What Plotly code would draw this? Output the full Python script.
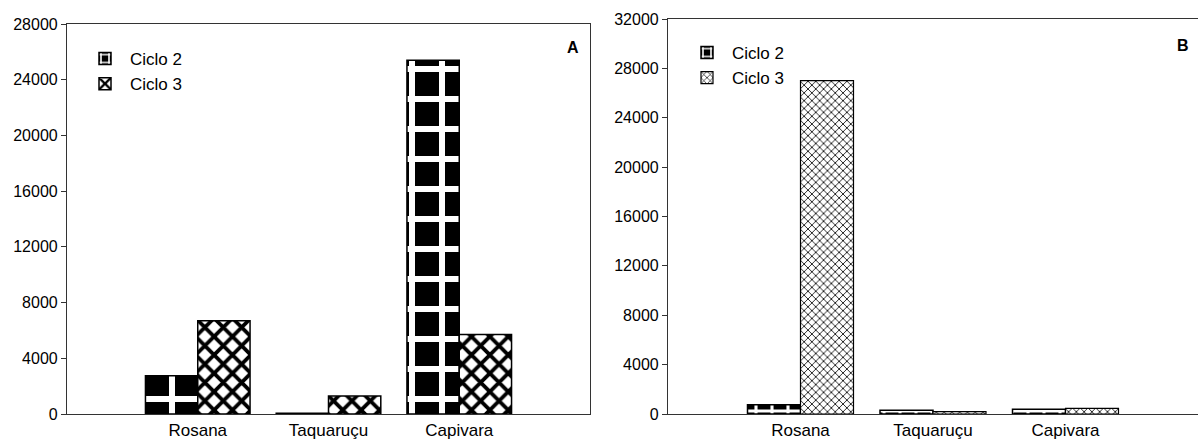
import plotly.graph_objects as go

categories = ["Rosana", "Taquaruçu", "Capivara"]
series_names = ["Ciclo 2", "Ciclo 3"]
panel_a_ciclo2 = [2750, 50, 25400]
panel_a_ciclo3 = [6700, 1300, 5700]
panel_b_ciclo2 = [750, 300, 380]
panel_b_ciclo3 = [27000, 200, 450]
ticks_a = [0, 4000, 8000, 12000, 16000, 20000, 24000, 28000]
ticks_b = [0, 4000, 8000, 12000, 16000, 20000, 24000, 28000, 32000]

FONT = "Liberation Sans, Arial, sans-serif"
W, H = 1198, 443

def px_x(v):
    return v / W

def px_y(v):
    return 1 - v / H

fig = go.Figure()

def brick(size, sol):
    return dict(shape="+", fgcolor="white", bgcolor="black", size=size,
                solidity=sol, fillmode="replace")

def cross(size, sol):
    return dict(shape="x", fgcolor="black", bgcolor="white", size=size,
                solidity=sol, fillmode="replace")

fig.add_trace(go.Bar(x=categories, y=panel_a_ciclo2, name=series_names[0],
                     xaxis="x", yaxis="y", legend="legend",
                     marker=dict(color="black", pattern=brick(30, 0.36),
                                 line=dict(color="black", width=1.5))))
fig.add_trace(go.Bar(x=categories, y=panel_a_ciclo3, name=series_names[1],
                     xaxis="x", yaxis="y", legend="legend",
                     marker=dict(color="white", pattern=cross(13, 0.5),
                                 line=dict(color="black", width=1.5))))
fig.add_trace(go.Bar(x=categories, y=panel_b_ciclo2, name=series_names[0],
                     xaxis="x2", yaxis="y2", legend="legend2",
                     marker=dict(color="black", pattern=brick(16, 0.35),
                                 line=dict(color="black", width=1.5))))
fig.add_trace(go.Bar(x=categories, y=panel_b_ciclo3, name=series_names[1],
                     xaxis="x2", yaxis="y2", legend="legend2",
                     marker=dict(color="white", pattern=cross(5.5, 0.28),
                                 line=dict(color="black", width=1.2))))

axis_line = dict(showline=True, linecolor="#333", linewidth=1.2, mirror=True,
                 showgrid=False, zeroline=False)

fig.update_layout(
    width=W, height=H,
    margin=dict(l=0, r=0, t=0, b=0),
    paper_bgcolor="white", plot_bgcolor="white",
    barmode="group", bargap=0.2, bargroupgap=0,
    font=dict(family=FONT, size=16, color="black"),
    xaxis=dict(domain=[px_x(67), px_x(590)], anchor="y", range=[-1, 3],
               type="category", ticks="", tickfont=dict(size=17),
               automargin=False, **axis_line),
    yaxis=dict(domain=[px_y(414), px_y(24)], anchor="x", range=[0, 28000],
               tickvals=ticks_a, ticktext=[str(t) for t in ticks_a],
               ticks="outside", ticklen=5, tickcolor="#333",
               tickfont=dict(size=16), automargin=False, **axis_line),
    xaxis2=dict(domain=[px_x(668), 1.0], anchor="y2", range=[-1, 3],
                type="category", ticks="", tickfont=dict(size=17),
                automargin=False, **axis_line),
    yaxis2=dict(domain=[px_y(414), px_y(19)], anchor="x2", range=[0, 32000],
                tickvals=ticks_b, ticktext=[str(t) for t in ticks_b],
                ticks="outside", ticklen=5, tickcolor="#333",
                tickfont=dict(size=16), automargin=False, **axis_line),
    legend=dict(x=px_x(80), y=px_y(41), xanchor="left", yanchor="top",
                bgcolor="rgba(0,0,0,0)", font=dict(size=17),
                tracegroupgap=0, itemwidth=40),
    legend2=dict(x=px_x(682), y=px_y(35), xanchor="left", yanchor="top",
                 bgcolor="rgba(0,0,0,0)", font=dict(size=17),
                 tracegroupgap=0, itemwidth=40),
    annotations=[
        dict(text="<b>A</b>", x=px_x(573), y=px_y(37), xref="paper", yref="paper",
             xanchor="center", showarrow=False, font=dict(size=16, family=FONT)),
        dict(text="<b>B</b>", x=px_x(1183), y=px_y(35), xref="paper", yref="paper",
             xanchor="center", showarrow=False, font=dict(size=16, family=FONT)),
    ],
)

fig.write_html("out.html")
